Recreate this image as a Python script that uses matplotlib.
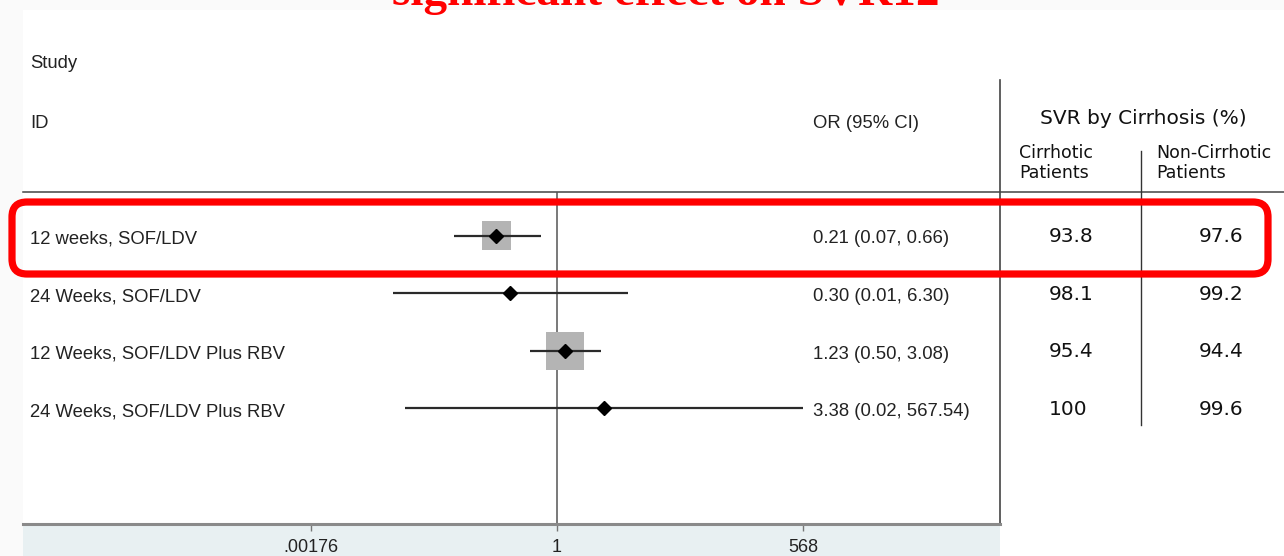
import numpy as np
import matplotlib
matplotlib.use("Agg")
import matplotlib.pyplot as plt
from matplotlib.patches import Rectangle, FancyBboxPatch
from matplotlib.transforms import blended_transform_factory

# ---- data -------------------------------------------------------------
studies = [
    "12 weeks, SOF/LDV",
    "24 Weeks, SOF/LDV",
    "12 Weeks, SOF/LDV Plus RBV",
    "24 Weeks, SOF/LDV Plus RBV",
]
odds_ratio = [0.21, 0.30, 1.23, 3.38]
ci_low = [0.07, 0.0144, 0.50, 0.02]
ci_high = [0.66, 6.30, 3.08, 567.54]
weights = [37.0, 1.5, 60.0, 1.5]          # relative study weights (%)
svr_cirrhotic = [93.8, 98.1, 95.4, 100]
svr_non_cirrhotic = [97.6, 99.2, 94.4, 99.6]
tick_values = [0.00176, 1, 568]
tick_labels = [".00176", "1", "568"]

title = "significant effect on SVR12"

# ---- figure / layout (pixel based) ------------------------------------
W, H = 1284, 556
fig = plt.figure(figsize=(W / 100, H / 100), dpi=100)

ov = fig.add_axes([0, 0, 1, 1])
ov.set_xlim(0, W)
ov.set_ylim(H, 0)
ov.axis("off")

# page backgrounds
ov.add_patch(Rectangle((0, 0), W, H, facecolor="#fafafa", edgecolor="none", zorder=0))
ov.add_patch(Rectangle((23, 10), W - 23, H - 10, facecolor="white", edgecolor="none", zorder=0.5))
ov.add_patch(Rectangle((23, 525), 1000 - 23, H - 525, facecolor="#e8f0f2", edgecolor="none", zorder=0.6))

# title (runs off the top of the page)
ov.text(666, 5, title, ha="center", va="baseline", color="#ff0000",
        family="Liberation Serif", fontweight="bold", fontsize=34, zorder=3)

# forest-plot axes
plot_left, plot_right, plot_top, plot_bottom = 23, 1000, 192, 524
null_px, right_tick_px = 557, 803
row0_px, row_step_px = 235.5, 57.6
px_per_decade = (right_tick_px - null_px) / np.log10(tick_values[-1])

fa = fig.add_axes([plot_left / W, (H - plot_bottom) / H,
                   (plot_right - plot_left) / W, (plot_bottom - plot_top) / H])
fa.set_xscale("log")
fa.set_xlim(10 ** ((plot_left - null_px) / px_per_decade),
            10 ** ((plot_right - null_px) / px_per_decade))
fa.set_ylim((plot_bottom - row0_px) / row_step_px, (plot_top - row0_px) / row_step_px)
fa.patch.set_visible(False)
for side in ("top", "left", "right"):
    fa.spines[side].set_visible(False)
fa.spines["bottom"].set_color("#8a8a8a")
fa.spines["bottom"].set_linewidth(2.2)
fa.set_yticks([])
fa.set_xticks(tick_values)
fa.set_xticklabels(tick_labels)
fa.minorticks_off()
fa.tick_params(axis="x", direction="out", length=5, width=1, color="#777777",
               pad=6, labelsize=13, labelcolor="#222222")
for lab in fa.get_xticklabels():
    lab.set_family("Liberation Sans")

rows = np.arange(len(studies))
fa.axvline(1, color="#555555", lw=1.1, zorder=1)
box_scale = 4.9 * 0.72  # points per sqrt(weight)
fa.scatter(odds_ratio, rows, s=(box_scale * np.sqrt(weights)) ** 2, marker="s",
           color="#b4b4b4", edgecolors="none", zorder=2)
fa.hlines(rows, ci_low, ci_high, color="#2a2a2a", lw=1.6, zorder=3)
fa.plot(odds_ratio, rows, "D", color="black", markersize=7.2, zorder=4, linestyle="none")

# ---- text columns -----------------------------------------------------
rowtf = blended_transform_factory(ov.transData, fa.transData)
left_font = dict(family="Liberation Sans", fontsize=13.3, color="#222222")
table_font = dict(family="DejaVu Sans", color="#111111")

ov.text(30, 64, "Study", va="center", ha="left", **left_font)
ov.text(30, 123, "ID", va="center", ha="left", **left_font)
ov.text(813, 123, "OR (95% CI)", va="center", ha="left", **left_font)

for i, name in enumerate(studies):
    ov.text(30, i + 0.06, name, transform=rowtf, va="center", ha="left", **left_font)
    label = f"{odds_ratio[i]:.2f} ({ci_low[i]:.2f}, {ci_high[i]:.2f})"
    ov.text(813, i + 0.06, label, transform=rowtf, va="center", ha="left", **left_font)
    ov.text(1049, i + 0.02, f"{svr_cirrhotic[i]:g}", transform=rowtf, va="center",
            ha="left", fontsize=14.5, **table_font)
    ov.text(1199, i + 0.02, f"{svr_non_cirrhotic[i]:g}", transform=rowtf, va="center",
            ha="left", fontsize=14.5, **table_font)

ov.text(1143, 118, "SVR by Cirrhosis (%)", ha="center", va="center", fontsize=14.5, **table_font)
ov.text(1019, 163, "Cirrhotic\nPatients", ha="left", va="center", fontsize=12.5,
        linespacing=1.2, **table_font)
ov.text(1156, 163, "Non-Cirrhotic\nPatients", ha="left", va="center", fontsize=12.5,
        linespacing=1.2, **table_font)

# table rules
ov.plot([23, W], [192, 192], color="#444444", lw=1.1, zorder=2)
ov.plot([1000, 1000], [80, 525], color="#444444", lw=1.2, zorder=2)
ov.plot([1141, 1141], [151, 425], color="#333333", lw=1.0, zorder=2)

# highlight around the first row
hl = FancyBboxPatch((12, 202), 1268 - 12, 274 - 202,
                    boxstyle="round,pad=0,rounding_size=15",
                    facecolor="none", edgecolor="#ff0000", lw=5.2,
                    transform=ov.transData, zorder=5)
fig.add_artist(hl)

fig.savefig("out.png", dpi=100)
